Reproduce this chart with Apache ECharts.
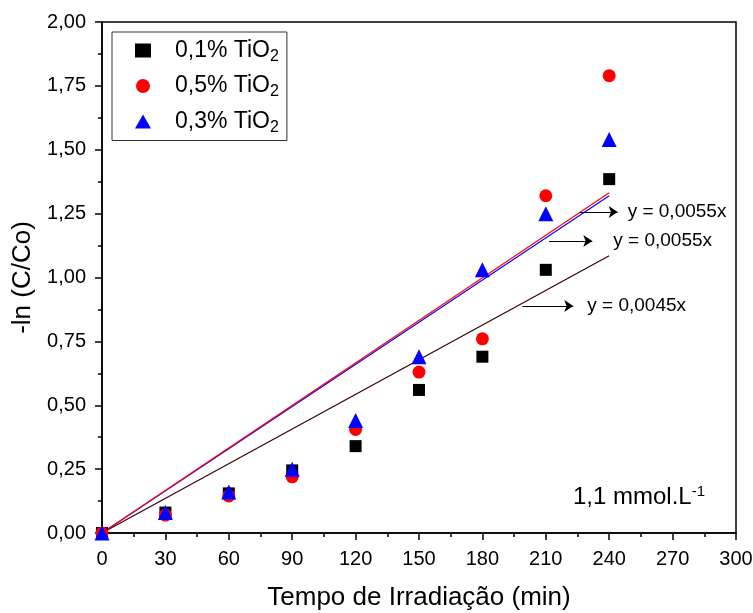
<!DOCTYPE html>
<html>
<head>
<meta charset="utf-8">
<script src="https://cdn.jsdelivr.net/npm/echarts@6/dist/echarts.min.js"></script>
<style>
  html, body { margin: 0; padding: 0; background: #fff; }
  #main { width: 753px; height: 613px; }
</style>
</head>
<body>
<div id="main"></div>
<script>
// tempo (min)
var tempos = [0, 30, 60, 90, 120, 150, 180, 210, 240];
// -ln(C/Co)
var ti01 = [0.00, 0.08, 0.155, 0.245, 0.34, 0.56, 0.69, 1.03, 1.385];
var ti05 = [0.00, 0.07, 0.145, 0.22, 0.405, 0.63, 0.76, 1.32, 1.79];
var ti03 = [0.00, 0.08, 0.16, 0.25, 0.44, 0.69, 1.03, 1.25, 1.54];
// ajustes lineares y = a*x
var incl01 = 0.00452;
var incl05 = 0.00555;
var incl03 = 0.0055;
var fimAjuste = 240;
// setas + equacoes [x0, x1, y, texto]
var setas = [
    [226, 244, 1.256, 'y = 0,0055x'],
    [211.5, 232, 1.143, 'y = 0,0055x'],
    [199, 223, 0.888, 'y = 0,0045x']
];

var chart = echarts.init(document.getElementById('main'));

function pares(ys) {
    var d = [];
    for (var i = 0; i < tempos.length; i++) {
        d.push([tempos[i], ys[i]]);
    }
    return d;
}

function ajuste(a) {
    return [[0, 0], [fimAjuste, a * fimAjuste]];
}

var setaData = setas.map(function (s, i) {
    var dist = [10, 21, 14][i];
    return [
        { coord: [s[0], s[2]] },
        { coord: [s[1], s[2]], label: { formatter: s[3], distance: dist } }
    ];
});

var fonte = 'Liberation Sans, Arial, sans-serif';

var option = {
    animation: false,
    grid: {
        left: 102, right: 17, top: 22, bottom: 80,
        outerBoundsMode: 'none',
        show: true, borderColor: '#000', borderWidth: 1.5
    },
    legend: {
        orient: 'vertical',
        left: 112, top: 32,
        padding: [7, 8, 5, 23],
        itemGap: 10,
        itemWidth: 16, itemHeight: 14,
        borderColor: '#333', borderWidth: 1,
        data: ['0,1% TiO2', '0,5% TiO2', '0,3% TiO2'],
        formatter: function (name) {
            return '{a|' + name.slice(0, -1) + '}{b|2}';
        },
        textStyle: {
            fontFamily: fonte,
            rich: {
                a: { fontSize: 23, color: '#000', fontFamily: fonte, padding: [0, 0, 0, 19] },
                b: { fontSize: 16, color: '#000', fontFamily: fonte, verticalAlign: 'bottom', padding: [12, 0, 0, 0] }
            }
        }
    },
    xAxis: {
        type: 'value', min: 0, max: 300, interval: 30,
        name: 'Tempo de Irradiação (min)',
        nameLocation: 'middle', nameGap: 52,
        nameTextStyle: { fontSize: 26, fontFamily: fonte, color: '#000' },
        axisLine: { lineStyle: { color: '#000', width: 1.5 } },
        axisTick: { length: 7, lineStyle: { color: '#000', width: 1.5 } },
        minorTick: { show: true, splitNumber: 2, length: 4, lineStyle: { color: '#000', width: 1.5 } },
        axisLabel: { fontSize: 20, fontFamily: fonte, color: '#000', margin: 16 },
        splitLine: { show: false }
    },
    yAxis: {
        type: 'value', min: 0, max: 2, interval: 0.25,
        name: '-ln (C/Co)',
        nameLocation: 'middle', nameGap: 65,
        nameTextStyle: { fontSize: 26, fontFamily: fonte, color: '#000' },
        axisLine: { lineStyle: { color: '#000', width: 1.5 } },
        axisTick: { length: 7, lineStyle: { color: '#000', width: 1.5 } },
        minorTick: { show: true, splitNumber: 2, length: 4, lineStyle: { color: '#000', width: 1.5 } },
        axisLabel: {
            fontSize: 20, fontFamily: fonte, color: '#000', margin: 16,
            formatter: function (v) { return v.toFixed(2).replace('.', ','); }
        },
        splitLine: { show: false }
    },
    graphic: [{
        type: 'text',
        right: 48, top: 484,
        style: {
            text: '{a|1,1 mmol.L}{b|-1}',
            fontFamily: fonte,
            rich: {
                a: { fontSize: 24, fill: '#000', fontFamily: fonte },
                b: { fontSize: 15, fill: '#000', fontFamily: fonte, verticalAlign: 'top', padding: [0, 0, 12, 0] }
            }
        }
    }],
    series: [
        {
            name: 'ajuste01', type: 'line', data: ajuste(incl01),
            symbol: 'none', lineStyle: { color: '#3a0000', width: 1.2 }, z: 1,
            markLine: {
                silent: true, symbol: ['none', 'arrow'], symbolSize: 9,
                lineStyle: { color: '#000', width: 1, type: 'solid' },
                label: { show: true, position: 'end', fontSize: 19, fontFamily: fonte, color: '#000' },
                data: setaData
            }
        },
        {
            name: 'ajuste03', type: 'line', data: ajuste(incl03),
            symbol: 'none', lineStyle: { color: '#0000ff', width: 1.2 }, z: 1
        },
        {
            name: 'ajuste05', type: 'line', data: ajuste(incl05),
            symbol: 'none', lineStyle: { color: '#ff0000', width: 1.2 }, z: 1
        },
        {
            name: '0,1% TiO2', type: 'scatter', data: pares(ti01),
            symbol: 'rect', symbolSize: 12, itemStyle: { color: '#000', opacity: 1 }, z: 3
        },
        {
            name: '0,5% TiO2', type: 'scatter', data: pares(ti05),
            symbol: 'circle', symbolSize: 13, itemStyle: { color: '#ff0000', opacity: 1 }, z: 3
        },
        {
            name: '0,3% TiO2', type: 'scatter', data: pares(ti03),
            symbol: 'triangle', symbolSize: 15, itemStyle: { color: '#0000ff', opacity: 1 }, z: 4
        }
    ]
};

chart.setOption(option);
</script>
</body>
</html>
